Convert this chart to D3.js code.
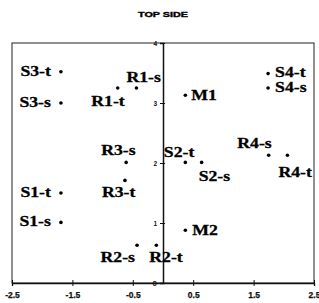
<!DOCTYPE html>
<html>
<head>
<meta charset="utf-8">
<script src="https://cdn.jsdelivr.net/npm/d3@7"></script>
<style>
  html, body { margin: 0; padding: 0; background: #fff; }
  svg { display: block; }
</style>
</head>
<body>
<div id="chart"></div>
<script>
// ---- data ----
const labels  = ["S3-t","S3-s","R1-t","R1-s","M1","S4-t","S4-s","R3-s","S2-t","S2-s","R4-s","R4-t","R3-t","S1-t","S1-s","R2-s","R2-t","M2"];
const xValues = [-1.69,-1.69,-0.75,-0.44,0.37,1.74,1.74,-0.61,0.37,0.64,1.75,2.06,-0.63,-1.69,-1.69,-0.43,-0.11,0.37];
const yValues = [3.52,3.00,3.25,3.25,3.13,3.49,3.25,2.01,2.01,2.01,2.13,2.13,1.71,1.50,1.01,0.63,0.63,0.88];
const xTicks = [-2.5,-1.5,-0.5,0.5,1.5,2.5];
const xTickLabels = ["-2.5","-1.5","-0.5","0.5","1.5","2.5"];
const yTicks = [0,1,2,3,4];
const yTickLabels = ["0","1","2","3","4"];
const title = "TOP SIDE";

// label placement (layout, not data): [anchor, dx, dy]
const labelLayout = {
  "S3-t":["end",-10,4], "S3-s":["end",-10,4], "S1-t":["end",-10,4], "S1-s":["end",-10,4],
  "R1-t":["end",7,18], "R1-s":["start",-10,-6],
  "R3-s":["start",-25,-7], "R3-t":["start",-23,16.5],
  "R2-s":["end",-2,16.5], "R2-t":["start",-7,16.5],
  "M1":["start",6,5], "M2":["start",7,5],
  "S4-t":["start",7,3.5], "S4-s":["start",7,4],
  "S2-t":["start",-21.5,-5.5], "S2-s":["start",-3,19],
  "R4-s":["end",3,-7], "R4-t":["start",-9,22]
};

const W = 319, H = 303;
const svg = d3.select("#chart").append("svg").attr("width", W).attr("height", H);

const x = d3.scaleLinear().domain([-2.5, 2.5]).range([12, 314]);
const y = d3.scaleLinear().domain([0, 4]).range([283, 43]);

// title
svg.append("text")
  .attr("x", x(0)).attr("y", 17)
  .attr("text-anchor", "middle")
  .attr("font-family", "Liberation Sans, Arial, sans-serif")
  .attr("font-weight", "bold").attr("font-size", 8)
  .attr("stroke", "#000").attr("stroke-width", 0.4)
  .attr("textLength", 50).attr("lengthAdjust", "spacingAndGlyphs")
  .text(title);

// frame
svg.append("rect")
  .attr("x", x(-2.5)).attr("y", y(4))
  .attr("width", x(2.5) - x(-2.5)).attr("height", y(0) - y(4))
  .attr("fill", "none").attr("stroke", "#222").attr("stroke-width", 1);

// x axis
const xAxis = svg.append("g")
  .attr("transform", `translate(0,${y(0)})`)
  .call(d3.axisBottom(x).tickValues(xTicks).tickSize(3).tickFormat((d, i) => xTickLabels[i]));
xAxis.select(".domain").attr("stroke", "#111").attr("stroke-width", 1.3);
xAxis.selectAll(".tick line").attr("y1", -3).attr("stroke", "#111");
xAxis.selectAll(".tick text")
  .attr("y", 9).attr("dy", "0.71em")
  .attr("font-family", "Liberation Sans, Arial, sans-serif")
  .attr("font-weight", "bold").attr("font-size", 8.5).attr("fill", "#111")
  .attr("stroke", "#111").attr("stroke-width", 0.25);

// y axis
const yAxis = svg.append("g")
  .attr("transform", `translate(${x(0)},0)`)
  .call(d3.axisLeft(y).tickValues(yTicks).tickSize(3).tickFormat((d, i) => yTickLabels[i]));
yAxis.select(".domain").attr("stroke", "#111").attr("stroke-width", 1.5);
yAxis.selectAll(".tick line").attr("x1", 2).attr("stroke", "#111");
yAxis.selectAll(".tick text")
  .attr("x", -6).attr("dy", "0.35em")
  .attr("font-family", "Liberation Sans, Arial, sans-serif")
  .attr("font-weight", "bold")
  .attr("font-size", d => d === 0 ? 8 : 6.5).attr("fill", "#111");

// points
const pts = labels.map((l, i) => ({ label: l, x: xValues[i], y: yValues[i] }));
svg.append("g").selectAll("circle").data(pts).join("circle")
  .attr("cx", d => x(d.x)).attr("cy", d => y(d.y)).attr("r", 1.8).attr("fill", "#000");

// labels
const lab = svg.append("g").selectAll("text").data(pts).join("text")
  .attr("x", d => x(d.x) + labelLayout[d.label][1])
  .attr("y", d => y(d.y) + labelLayout[d.label][2])
  .attr("text-anchor", d => labelLayout[d.label][0])
  .attr("font-family", "Liberation Serif, Times New Roman, serif")
  .attr("font-weight", "bold").attr("font-size", 15).attr("fill", "#000")
  .attr("stroke", "#000").attr("stroke-width", 0.3)
  .text(d => d.label);
lab.each(function() {
  const w = this.getComputedTextLength();
  d3.select(this).attr("textLength", w * 1.18).attr("lengthAdjust", "spacingAndGlyphs");
});
</script>
</body>
</html>
